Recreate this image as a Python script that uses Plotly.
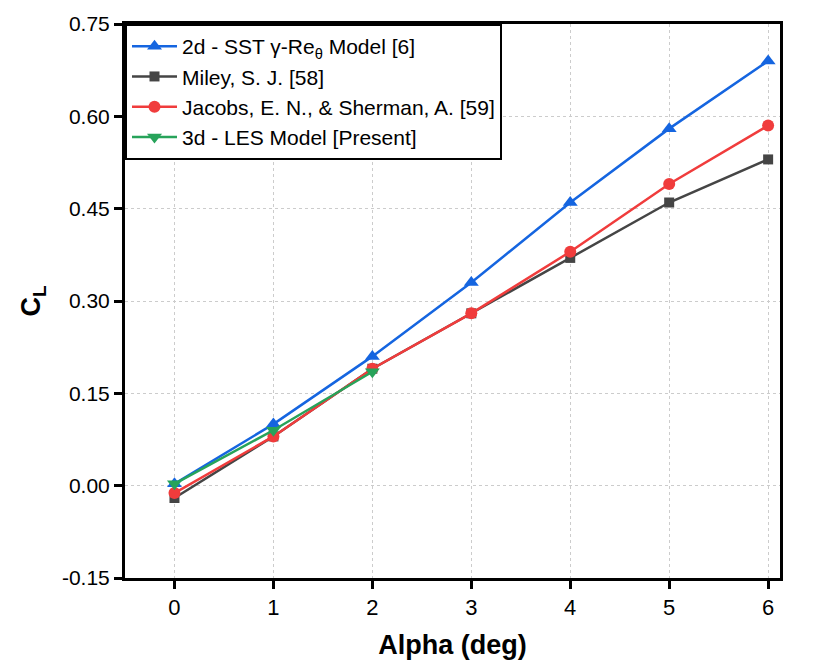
import plotly.graph_objects as go

alpha = [0, 1, 2, 3, 4, 5, 6]
sst_2d = [0.003, 0.10, 0.21, 0.33, 0.46, 0.58, 0.69]
miley = [-0.020, 0.080, 0.190, 0.280, 0.370, 0.460, 0.530]
jacobs = [-0.012, 0.080, 0.190, 0.280, 0.380, 0.490, 0.585]
alpha_les = [0, 1, 2]
les_3d = [0.003, 0.090, 0.185]

yticks = [-0.15, 0.0, 0.15, 0.30, 0.45, 0.60, 0.75]

FONT = "Liberation Sans, Arial, sans-serif"

fig = go.Figure()
fig.add_trace(go.Scatter(x=alpha, y=sst_2d, mode="lines+markers",
                         name="2d - SST γ-Re<sub>θ</sub> Model [6]",
                         line=dict(color="#1565e0", width=2.5),
                         marker=dict(symbol="triangle-up", size=13, color="#1565e0")))
fig.add_trace(go.Scatter(x=alpha, y=miley, mode="lines+markers",
                         name="Miley, S. J. [58]",
                         line=dict(color="#454545", width=2.5),
                         marker=dict(symbol="square", size=10, color="#454545")))
fig.add_trace(go.Scatter(x=alpha, y=jacobs, mode="lines+markers",
                         name="Jacobs, E. N., & Sherman, A. [59]",
                         line=dict(color="#f03c3c", width=2.5),
                         marker=dict(symbol="circle", size=12, color="#f03c3c")))
fig.add_trace(go.Scatter(x=alpha_les, y=les_3d, mode="lines+markers",
                         name="3d - LES Model [Present]",
                         line=dict(color="#27a35a", width=2.5),
                         marker=dict(symbol="triangle-down", size=13, color="#27a35a")))

fig.update_layout(
    width=814, height=670,
    margin=dict(l=125, r=34, t=18, b=92),
    paper_bgcolor="white", plot_bgcolor="white",
    font=dict(family=FONT, color="black", size=21),
    showlegend=True,
    legend=dict(x=0, y=1, xanchor="left", yanchor="top",
                bgcolor="white", bordercolor="black", borderwidth=2,
                font=dict(size=21, family=FONT), tracegroupgap=0,
                itemwidth=45),
)
fig.update_xaxes(
    range=[-0.5, 6.12], tickvals=alpha, ticktext=[str(a) for a in alpha],
    showline=True, linecolor="black", linewidth=3, mirror=True,
    ticks="outside", ticklen=8, tickwidth=3, tickcolor="black",
    showgrid=True, gridcolor="#cccccc", griddash="dot", gridwidth=1,
    zeroline=False,
    tickfont=dict(size=22, family=FONT),
    title=dict(text="<b>Alpha (deg)</b>", font=dict(size=27, family=FONT), standoff=16),
)
fig.update_yaxes(
    range=[-0.15, 0.75], tickvals=yticks, ticktext=[f"{v:.2f}" for v in yticks],
    showline=True, linecolor="black", linewidth=3, mirror=True,
    ticks="outside", ticklen=8, tickwidth=3, tickcolor="black",
    showgrid=True, gridcolor="#cccccc", griddash="dot", gridwidth=1,
    zeroline=False,
    tickfont=dict(size=21, family=FONT),
    title=dict(text="<b>C<sub>L</sub></b>", font=dict(size=27, family=FONT), standoff=14),
)

fig.write_html("out.html")
